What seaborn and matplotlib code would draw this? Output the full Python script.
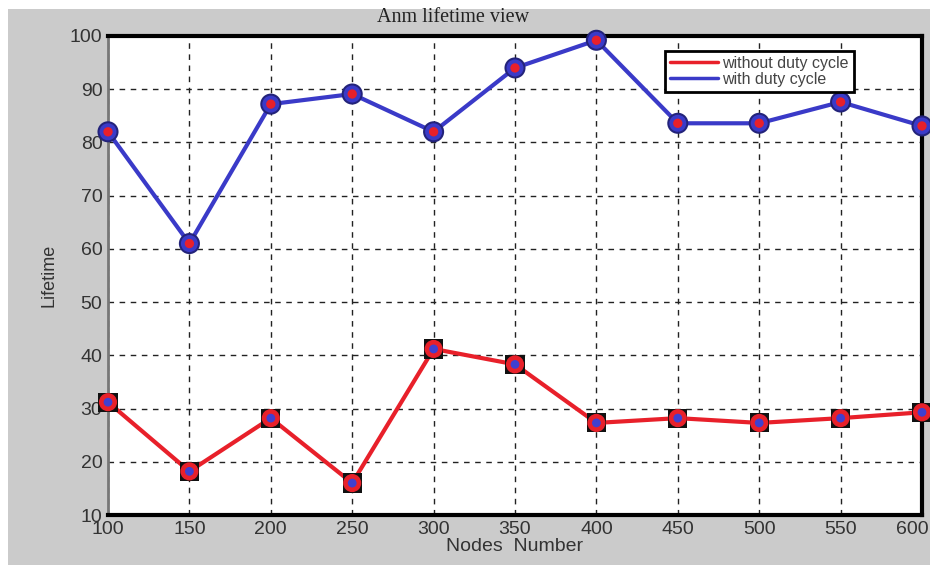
import matplotlib
matplotlib.use("Agg")
import matplotlib.pyplot as plt
import matplotlib.transforms as mtransforms
import seaborn as sns
import pandas as pd
from matplotlib.patches import Rectangle
from matplotlib.lines import Line2D

nodes = [100, 150, 200, 250, 300, 350, 400, 450, 500, 550, 600]
without_duty = [31.2, 18.2, 28.2, 16.0, 41.2, 38.3, 27.3, 28.2, 27.3, 28.2, 29.3]
with_duty = [82.0, 61.0, 87.2, 89.1, 82.0, 94.0, 99.2, 83.6, 83.6, 87.6, 83.1]
x_ticks = [100, 150, 200, 250, 300, 350, 400, 450, 500, 550, 600]
y_ticks = [10, 20, 30, 40, 50, 60, 70, 80, 90, 100]

df = pd.DataFrame({"Nodes": nodes * 2,
                   "Lifetime": without_duty + with_duty,
                   "Series": ["without duty cycle"] * len(nodes) + ["with duty cycle"] * len(nodes)})

sns.set_style("white")
plt.rcParams['font.family'] = ['Liberation Sans', 'DejaVu Sans']

W, H = 930, 565
fig = plt.figure(figsize=(W / 100, H / 100), dpi=100, facecolor="white")
fig.patches.append(Rectangle((8 / W, 0), 1 - 8 / W, 1 - 9 / H, transform=fig.transFigure,
                             facecolor="#cbcbcb", edgecolor="none", zorder=-10))
ax = fig.add_axes([108 / W, 50 / H, (922 - 108) / W, (515 - 36) / H])

palette = {"without duty cycle": "#e8202a", "with duty cycle": "#3a3ac8"}
sns.lineplot(data=df, x="Nodes", y="Lifetime", hue="Series", palette=palette,
             linewidth=3, ax=ax, legend=False, zorder=3)

red_df = df[df.Series == "without duty cycle"]
blue_df = df[df.Series == "with duty cycle"]
sns.scatterplot(data=red_df, x="Nodes", y="Lifetime", marker="s", s=190, color="#111111",
                edgecolor="none", ax=ax, zorder=4, clip_on=False)
sns.scatterplot(data=red_df, x="Nodes", y="Lifetime", marker="o", s=170, color="#e8202a",
                edgecolor="none", ax=ax, zorder=5, clip_on=False)
sns.scatterplot(data=red_df, x="Nodes", y="Lifetime", marker="o", s=40, color="#4040d0",
                edgecolor="none", ax=ax, zorder=6, clip_on=False)
sns.scatterplot(data=blue_df, x="Nodes", y="Lifetime", marker="o", s=230, color="#23237a",
                edgecolor="none", ax=ax, zorder=4, clip_on=False)
sns.scatterplot(data=blue_df, x="Nodes", y="Lifetime", marker="o", s=150, color="#3a3ac8",
                edgecolor="none", ax=ax, zorder=5, clip_on=False)
sns.scatterplot(data=blue_df, x="Nodes", y="Lifetime", marker="o", s=45, color="#e8202a",
                edgecolor="none", ax=ax, zorder=6, clip_on=False)

ax.set_xlim(100, 600)
ax.set_ylim(10, 100)
ax.set_xticks(x_ticks)
ax.set_yticks(y_ticks)
ax.set_xticklabels([str(t) for t in x_ticks], fontsize=14, color="#333333")
ax.set_yticklabels([str(t) for t in y_ticks], fontsize=14, color="#333333")
ax.tick_params(axis="x", length=0, pad=4)
ax.tick_params(axis="y", length=0, pad=4)
last = ax.get_xticklabels()[-1]
last.set_transform(last.get_transform() + mtransforms.ScaledTranslation(-10 / 100, 0, fig.dpi_scale_trans))
ax.set_facecolor("white")
ax.grid(True, color="#222222", linestyle=(0, (4, 4)), linewidth=1.0, zorder=1)
ax.set_axisbelow(True)
for side in ["top", "bottom", "right"]:
    ax.spines[side].set_visible(True)
    ax.spines[side].set_color("black")
    ax.spines[side].set_linewidth(3)
ax.spines["left"].set_color("#777777")
ax.spines["left"].set_linewidth(2)

ax.set_xlabel("Nodes  Number", fontsize=14, color="#333333", labelpad=0)
ax.set_ylabel("Lifetime", fontsize=13, color="#333333", labelpad=9)
fig.text(453 / W, 1 - 18 / H, "Anm lifetime view", ha="center", va="center",
         fontsize=14.5, family="Liberation Serif", color="#222222")

handles = [Line2D([], [], color="#e8202a", lw=2.5), Line2D([], [], color="#3a3ac8", lw=2.5)]
leg = ax.legend(handles, ["without duty cycle", "with duty cycle"], loc="upper right",
                bbox_to_anchor=(0.926, 0.985), fontsize=11.5, frameon=True, fancybox=False,
                handlelength=3.0, handletextpad=0.3, borderpad=0.3, labelspacing=0.05,
                framealpha=1)
leg.get_frame().set_edgecolor("black")
leg.get_frame().set_linewidth(2)
for t in leg.get_texts():
    t.set_color("#444444")

fig.savefig("out.png", dpi=100, facecolor=fig.get_facecolor())
